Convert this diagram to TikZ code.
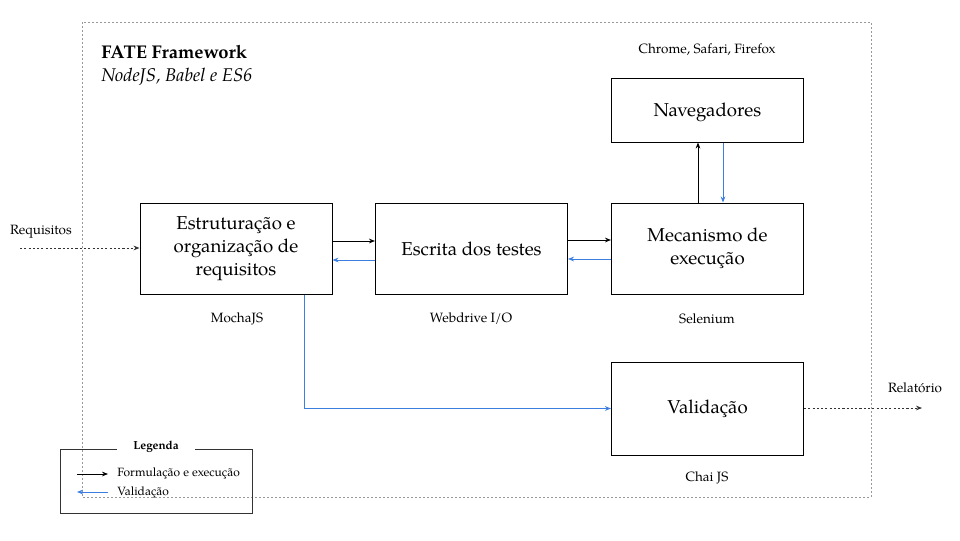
\documentclass[tikz,border=0pt]{standalone}
\usepackage{fontspec}
\setmainfont{TeX Gyre Pagella}
\usetikzlibrary{arrows.meta}
\definecolor{vblue}{HTML}{3C7FE0}
\tikzset{
  box/.style={draw, line width=0.75pt, minimum width=192*0.75pt, minimum height=91*0.75pt, inner sep=0pt, align=center, font=\fontsize{14}{17}\selectfont},
  lbl/.style={font=\fontsize{10.1}{12}\selectfont, inner sep=0pt},
  fwd/.style={draw=black, line width=0.7pt, -{Stealth[length=4.5pt,width=3.5pt]}},
  back/.style={draw=vblue, line width=0.7pt, -{Stealth[length=4.5pt,width=3.5pt]}},
  dots/.style={draw=black!80, line width=0.6pt, dash pattern=on 1.6pt off 1.6pt, -{Stealth[length=4.5pt,width=3.5pt]}},
  frame/.style={draw=black!40, line width=0.6pt, dash pattern=on 1.5pt off 1.5pt}
}
\begin{document}
\begin{tikzpicture}[x=0.75pt, y=-0.75pt]
\useasboundingbox (0,0) rectangle (960,540);
% outer frame
\draw[frame] (82,22) rectangle (871,497);
\node[anchor=base west, inner sep=0pt, font=\fontsize{13.8}{16}\selectfont\bfseries] (title) at (101,58) {FATE Framework};
\node[anchor=base west, inner sep=0pt, font=\fontsize{13.8}{16}\selectfont\itshape] (sub) at (101,81) {NodeJS, Babel e ES6};
\node[lbl] (chrome) at (707,50) {Chrome, Safari, Firefox};
% boxes
\node[box, minimum height=64*0.75pt] (nav) at (707.5,110) {};
\node[font=\fontsize{14}{17}\selectfont, inner sep=0pt] (navt) at (707.5,112) {Navegadores};
\node[box] (est) at (236,248.5) {Estruturação e\\organização de\\requisitos};
\node[box] (esc) at (471.5,248.5) {Escrita dos testes};
\node[box] (mec) at (707.5,248.5) {Mecanismo de\\execução};
\node[box, minimum height=93*0.75pt] (val) at (707.5,408.5) {Validação};
% labels
\node[lbl] (mocha) at (237,319) {MochaJS};
\node[lbl] (wdio) at (471,319) {Webdrive I/O};
\node[lbl] (sel) at (707,319) {Selenium};
\node[lbl] (chai) at (707,478) {Chai JS};
\node[lbl] (req) at (41,232) {Requisitos};
\node[lbl] (rel) at (915,388) {Relatório};
\coordinate (reqs) at (20,248);
\coordinate (rele) at (922,408);
% connectors
\draw[dots] (reqs) -- (reqs -| est.west);
\draw[dots] (val.east |- rele) -- (rele);
\draw[fwd] ([yshift=7.5*0.75pt]est.east) -- ([yshift=7.5*0.75pt]esc.west);
\draw[back] ([yshift=-11.5*0.75pt]esc.west) -- ([yshift=-11.5*0.75pt]est.east);
\draw[fwd] ([yshift=8.5*0.75pt]esc.east) -- ([yshift=8.5*0.75pt]mec.west);
\draw[back] ([yshift=-10.5*0.75pt]mec.west) -- ([yshift=-10.5*0.75pt]esc.east);
\draw[fwd] ([xshift=-9.5*0.75pt]mec.north) -- ([xshift=-9.5*0.75pt]nav.south);
\draw[back] ([xshift=15.5*0.75pt]nav.south) -- ([xshift=15.5*0.75pt]mec.north);
\draw[back] ([xshift=68*0.75pt]est.south) |- (val.west);
% legend
\draw[draw=black!80, line width=0.6pt] (60,449) rectangle (252,513);
\node[fill=white, inner xsep=12pt, inner ysep=1pt, font=\fontsize{8.8}{10}\selectfont\bfseries] (leg) at (156,447) {Legenda};
\coordinate (l1a) at (77,474);
\coordinate (l1b) at (108,474);
\coordinate (l2a) at (108,492);
\coordinate (l2b) at (77,492);
\draw[fwd, line width=0.6pt] (l1a) -- (l1b);
\draw[back, line width=0.6pt] (l2a) -- (l2b);
\node[anchor=west, inner sep=0pt, font=\fontsize{9}{10}\selectfont] (t1) at (117,473) {Formulação e execução};
\node[anchor=west, inner sep=0pt, font=\fontsize{9}{10}\selectfont] (t2) at (117,492) {Validação};
\end{tikzpicture}
\end{document}
